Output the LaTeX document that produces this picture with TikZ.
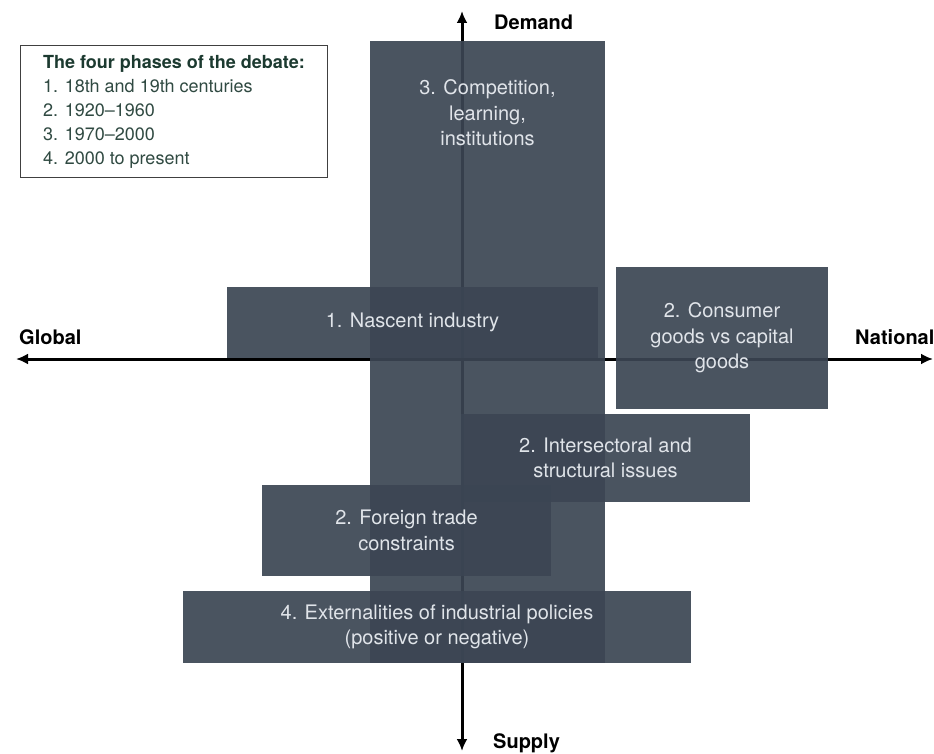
\documentclass[tikz,border=0pt]{standalone}
\usepackage{fontspec}
\setmainfont{TeX Gyre Heros}
\usepackage{tikz}
\usetikzlibrary{
  arrows.meta,
  chains,
  positioning,
  scopes
}

\definecolor{slate}{RGB}{59,69,83}
\definecolor{boxtext}{RGB}{224,228,233}
\definecolor{legendgreen}{RGB}{28,58,48}
\definecolor{legendgrey}{RGB}{48,74,66}

\begin{document}
\begin{tikzpicture}[x=1pt,y=-1pt,
      phase/.style={
         rectangle,
         fill=slate,
         fill opacity=0.92,
         text opacity=1,
         text=boxtext,
         align=center,
         inner sep=0pt,
         font=\fontsize{20}{25.5}\selectfont
      },
      phase text/.style={
         text=boxtext,
         align=center,
         inner sep=0pt,
         font=\fontsize{20}{25.5}\selectfont
      },
      axis label/.style={
         font=\fontsize{20}{24}\selectfont\bfseries,
         inner sep=0pt
      },
      legend box/.style={
         rectangle,
         draw=black!75,
         line width=1pt,
         fill=white,
         text=legendgrey,
         align=left,
         inner xsep=23pt,
         minimum height=132pt,
         font=\fontsize{18}{24}\selectfont
      },
      point/.style={coordinate},>={Latex[length=12pt,width=11pt]},
      both tips/.style={<->,line width=3pt,draw=black},
    ]
    \useasboundingbox (0,0) rectangle (934,754);
    % axis ends
    \node (top) [point] at (462,11) {};
    \node (bottom) [point] at (462,751) {};
    \node (west) [point] at (16,359) {};
    \node (east) [point] at (933,359) {};
    \draw [both tips] (bottom) -- (top);
    \draw [both tips] (west) -- (east);
    \node (demand) [axis label, anchor=west] at (494,22) {Demand};
    \node (supply) [axis label, anchor=west] at (493,743) {Supply};
    \node (global) [axis label, anchor=west] at (19,337) {Global};
    \node (national) [axis label, anchor=west] at (855,337) {National};
    % phase boxes
    \node (comp) [phase, minimum width=235pt, minimum height=622pt] at (487.5,352) {};
    \node (comptext) [phase text, below=39pt of comp.north] {3. Competition,\\learning,\\institutions};
    \node (nascent) [phase, minimum width=371pt, minimum height=71pt] at (412.5,322.5) {1. Nascent industry};
    \node (consumer) [phase, minimum width=212pt, minimum height=142pt] at (722,338) {2. Consumer\\goods vs capital\\goods};
    \node (intersect) [phase, minimum width=289pt, minimum height=88pt] at (605.5,458) {2. Intersectoral and\\structural issues};
    \node (foreign) [phase, minimum width=289pt, minimum height=91pt] at (406.5,530.5) {2. Foreign trade\\constraints};
    \node (extern) [phase, minimum width=508pt, minimum height=72pt] at (437,627) {4. Externalities of industrial policies\\(positive or negative)};
    % legend
    \node (legend) [legend box] at (174,112) {{\bfseries\color{legendgreen}The four phases of the debate:}\\1. 18th and 19th centuries\\2. 1920--1960\\3. 1970--2000\\4. 2000 to present};
\end{tikzpicture}
\end{document}
